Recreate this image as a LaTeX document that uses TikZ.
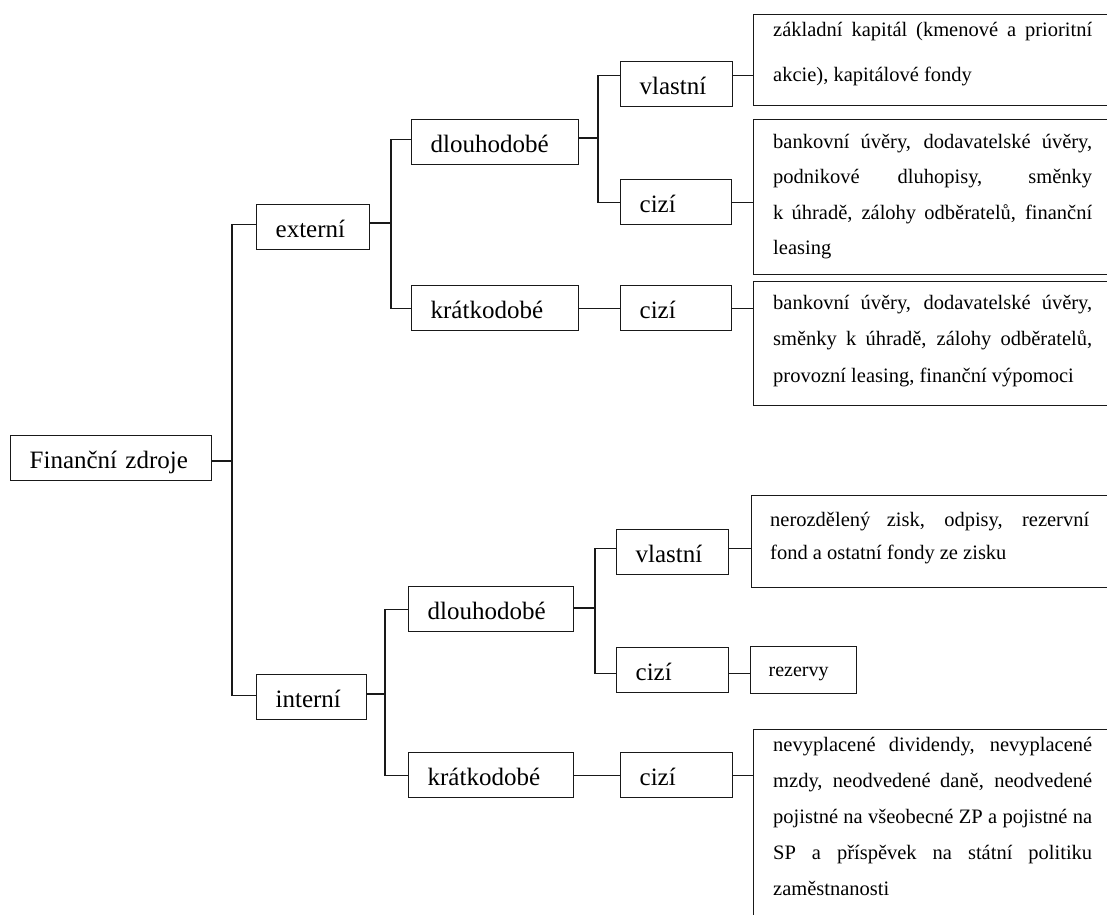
\documentclass[tikz,border=0pt]{standalone}
\usepackage{fontspec}
\setmainfont{Liberation Serif}
\hyphenpenalty=10000
\exhyphenpenalty=10000
\tolerance=10000
\hbadness=10000
\begin{document}
\begin{tikzpicture}[x=1pt,y=-1pt,
  lbl/.style={draw=black!90, line width=1.3pt, anchor=north west, minimum height=45pt,
    inner xsep=19pt, inner ysep=0pt, text height=21pt, text depth=0pt, align=left,
    font=\fontsize{25}{30}\selectfont},
  big/.style={draw=black!90, line width=1.3pt, anchor=north west, inner sep=0pt, minimum width=370pt},
  txt/.style={anchor=base west, inner sep=0pt, text width=319pt, align=justify,
    font=\fontsize{20.5}{#1}\selectfont},
  conn/.style={draw=black!90, line width=1.3pt}]
\useasboundingbox (0,0) rectangle (1107,914);
\clip (0,0) rectangle (1107,914);

% level 0
\node[lbl, text width=163pt] (root) at (10,435) {Finanční zdroje};
% level 1
\node[lbl, text width=75pt] (ext) at (256,204) {externí};
\node[lbl, text width=72pt] (int) at (256,674) {interní};
% level 2
\node[lbl, text width=129pt] (dl1) at (411,119) {dlouhodobé};
\node[lbl, text width=129pt] (kr1) at (411,285) {krátkodobé};
\node[lbl, text width=127pt] (dl2) at (408,586) {dlouhodobé};
\node[lbl, text width=127pt] (kr2) at (408,752) {krátkodobé};
% level 3
\node[lbl, text width=74pt] (vl1) at (620,61) {vlastní};
\node[lbl, text width=73pt] (ci1) at (620,179) {cizí};
\node[lbl, text width=73pt] (ci2) at (620,285) {cizí};
\node[lbl, text width=74pt] (vl2) at (616,529) {vlastní};
\node[lbl, text width=74pt] (ci3) at (616,647) {cizí};
\node[lbl, text width=74pt] (ci4) at (620,752) {cizí};
% level 4 boxes
\node[big, minimum height=91pt] (T1) at (753,14) {};
\node[big, minimum height=155pt] (T2) at (753,119) {};
\node[big, minimum height=124pt] (T3) at (753,281) {};
\node[big, minimum height=92pt] (T4) at (751,495) {};
\node[draw=black!90, line width=1.3pt, anchor=north west, minimum height=47pt,
  inner xsep=18pt, inner ysep=0pt, text width=70pt, text height=13pt, text depth=0pt,
  align=left, font=\fontsize{20}{24}\selectfont] (T5) at (750,646) {rezervy};
\node[big, minimum height=200pt] (T6) at (753,729) {};

% texts
\node[txt=45] (t1) at ([xshift=20pt,yshift=-22pt]T1.north west)
  {základní kapitál (kmenové a prioritní\linebreak akcie), kapitálové fondy};
\node[txt=35.5] (t2) at ([xshift=20pt,yshift=-29pt]T2.north west)
  {bankovní úvěry, dodavatelské úvěry,\linebreak podnikové dluhopisy, směnky\linebreak k~úhradě, zálohy odběratelů, finanční\linebreak leasing};
\node[txt=36.5] (t3) at ([xshift=20pt,yshift=-28pt]T3.north west)
  {bankovní úvěry, dodavatelské úvěry,\linebreak směnky k úhradě, zálohy odběratelů,\linebreak provozní leasing, finanční výpomoci};
\node[txt=33] (t4) at ([xshift=19pt,yshift=-31pt]T4.north west)
  {nerozdělený zisk, odpisy, rezervní\linebreak fond a ostatní fondy ze zisku};
\node[txt=36] (t6) at ([xshift=20pt,yshift=-22pt]T6.north west)
  {nevyplacené dividendy, nevyplacené\linebreak mzdy, neodvedené daně, neodvedené\linebreak pojistné na všeobecné ZP a pojistné na\linebreak SP a příspěvek na státní politiku\linebreak zaměstnanosti};

% connectors
\coordinate (j0) at (232,461);
\draw[conn] (root.east |- j0) -- (j0);
\draw[conn] ([yshift=3pt]ext.west) -| (j0) |- ([yshift=2pt]int.west);

\coordinate (j1) at (391,223);
\draw[conn] (ext.east |- j1) -- (j1);
\draw[conn] ([yshift=3pt]dl1.west) -| (j1) |- (kr1.west);

\coordinate (j2) at (598,138);
\draw[conn] (dl1.east |- j2) -- (j2);
\draw[conn] ([yshift=9pt]vl1.west) -| (j2) |- (ci1.west);
\draw[conn] (kr1.east) -- (ci2.west);
\draw[conn] ([yshift=9pt]vl1.east) -- ([yshift=9pt]vl1.east -| T1.west);
\draw[conn] (ci1.east) -- (ci1.east -| T2.west);
\draw[conn] (ci2.east) -- (ci2.east -| T3.west);

\coordinate (j3) at (385,694);
\draw[conn] (int.east |- j3) -- (j3);
\draw[conn] (dl2.west) -| (j3) |- (kr2.west);

\coordinate (j4) at (595,608);
\draw[conn] (dl2.east |- j4) -- (j4);
\draw[conn] ([yshift=3.5pt]vl2.west) -| (j4) |- ([yshift=-3.5pt]ci3.west);
\draw[conn] ([yshift=3.5pt]vl2.east) -- ([yshift=3.5pt]vl2.east -| T4.west);
\draw[conn] ([yshift=-3.5pt]ci3.east) -- ([yshift=-3.5pt]ci3.east -| T5.west);
\draw[conn] (kr2.east) -- (ci4.west);
\draw[conn] (ci4.east) -- (ci4.east -| T6.west);
\end{tikzpicture}
\end{document}
